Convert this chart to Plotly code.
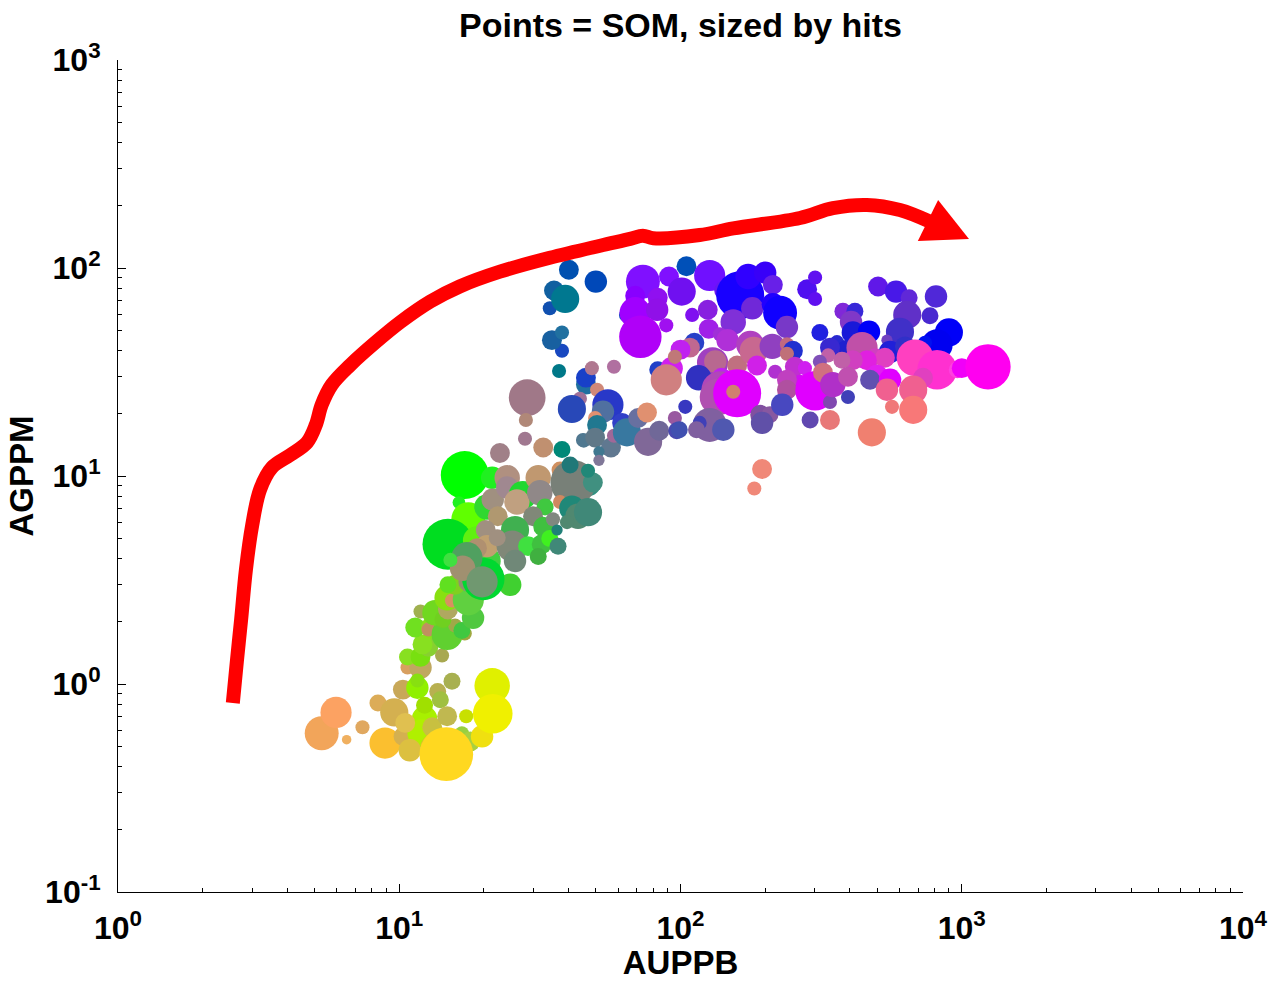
import plotly.graph_objects as go

# ---- SOM nodes: AU (ppb), AG (ppm), hits, node colour ----
au_ppb = [
    # lower-left yellow / orange nodes
    5.3, 5.96, 6.5, 7.4, 8.4, 9.6, 8.9, 10.3, 10.3, 10.7, 11.9, 11.6, 11.6, 13.7, 15.4, 12.3, 12.3,
    12.0, 10.9, 13.1, 14.0, 14.8, 13.5, 14.2, 16.2, 16.7, 17.3, 17.9, 13.1, 10.5, 14.7, 19.7, 21.4, 21.5,
    # green arm
    10.7, 11.9, 12.7, 14.2, 12.1, 11.4, 13.1, 12.7, 14.8, 15.8, 17.1, 16.7, 11.9, 13.4, 14.3, 14.9,
    18.3, 14.8, 15.4, 17.6, 15.8, 17.6, 24.8,
    # main green / grey cluster
    17.1, 21.4, 16.3, 17.6, 14.9, 18.9, 20.5, 21.5, 24.2, 24.2, 27.5, 26.2, 31.2, 31.6, 33.0, 29.9,
    22.4, 25.8, 32.5, 35.2, 20.3, 20.2, 19.9, 20.5, 25.2, 18.9, 22.3, 28.7, 32.1, 34.3, 31.2, 25.8,
    17.4, 16.8, 15.2, 19.7, 14.9, 37.3, 46.9, 41.5, 48.8, 46.9, 40.5, 37.9, 32.5, 37.3, 41.1, 43.2,
    46.9, 39.5, 36.7, 36.4, 22.8, 45.0,
    # teal / blue column
    28.5, 28.2, 28.0, 37.0, 37.9, 34.9, 37.9, 34.3, 35.5, 38.9, 40.1, 50, 46.1, 46.1, 48.4, 58, 50.5,
    43.9, 41.1, 55.2, 53, 49.7, 50.5, 45.3, 49.7, 56.6, 51.3, 51.3, 58, 62, 64.5, 70.7, 76, 76.7, 84,
    95.5, 97, 83, 93, 89,
    # purple / blue cluster
    105, 73.5, 91, 127, 69, 83, 64, 69, 82.6, 101, 110, 125, 89, 72, 143, 163, 174, 200, 213, 180,
    154, 213, 226, 239, 282, 301, 301, 126, 138, 147, 112, 108, 100, 95.5, 130, 133, 159, 177, 182,
    212, 239, 251, 239, 187, 217, 255, 277, 266, 239, 239, 301, 116, 140, 138, 136, 159, 154, 104,
    127, 117, 142, 99, 114, 192, 208, 230, 195, 289, 340, 195, 183, 340,
    # right blue / pink cluster
    504, 584, 650, 810, 378, 417, 640, 771, 404, 410, 468, 313, 603, 900, 817, 740, 542, 360, 391,
    340, 556, 628, 442, 666, 682, 817, 964, 1000, 1240, 728, 492, 533, 460, 410, 375, 335, 313, 321,
    348, 394, 499, 472, 556, 542, 672, 672, 565, 394, 479,
]

ag_ppm = [
    0.58, 0.73, 0.54, 0.62, 0.81, 0.73, 0.52, 0.56, 0.94, 1.2, 1.2, 0.96, 1.04, 0.92, 1.03, 0.68, 0.79,
    0.58, 0.48, 0.62, 0.84, 0.70, 0.49, 0.54, 0.51, 0.58, 0.70, 0.53, 0.42, 0.65, 0.46, 0.56, 0.98, 0.72,
    1.35, 1.35, 1.51, 1.37, 1.55, 1.87, 1.87, 1.83, 1.73, 1.91, 1.75, 1.81, 2.23, 2.2, 2.04, 2.28,
    2.08, 2.6, 2.52, 2.54, 3.0, 3.1, 3.0,
    10.1, 9.8, 7.45, 6.2, 4.7, 4.9, 7.1, 7.7, 9.8, 8.8, 8.1, 7.5, 9.8, 8.3, 7.1, 6.4,
    6.4, 5.5, 5.7, 6.2, 5.5, 3.9, 3.2, 4.6, 4.6, 4.5, 5.05, 4.6, 4.7, 5.0, 4.1, 3.9,
    4.05, 3.6, 3.95, 3.1, 3.0, 10.7, 9.2, 9.3, 9.3, 10.6, 11.3, 13.4, 13.7, 7.5, 7.0, 6.4,
    6.7, 6.0, 4.6, 5.5, 12.9, 14.9,
    23.8, 18.6, 15.1, 32, 40, 45, 49, 64, 78, 71, 98, 86, 27.5, 29.7, 33, 33.5, 26,
    23.5, 21, 22, 20.4, 19, 17.6, 14.8, 15.3, 13.7, 13.1, 11.9, 15.6, 18, 16.2, 19, 20.2, 14.6, 16.5,
    19, 16.5, 32.4, 33, 29,
    102, 86, 91, 92, 73.5, 72, 59.5, 61, 63, 77, 59.5, 63, 53, 46.7, 78, 74, 91, 95, 83, 64,
    55, 67, 61, 52, 79, 90, 71, 51, 48, 45, 43.7, 41.4, 40.5, 37.4, 35, 35.5, 34, 42.7, 40,
    42, 43, 40, 38.7, 34, 31.7, 33.5, 33, 28.4, 29, 26, 25.7, 29.7, 29.7, 26, 24, 25, 25.4, 21.5,
    17.6, 18, 16.7, 16.7, 16.7, 19.7, 19.7, 22, 18, 18.6, 18.6, 10.8, 8.7, 22.7,
    81.5, 77, 72, 73, 62, 62, 59.5, 59, 55, 49, 49.4, 49, 49.4, 49, 42.7, 43.7, 45, 44, 40.5,
    41.4, 39.5, 42, 41.4, 35.4, 37, 32.4, 32.4, 33, 33.5, 29.7, 37.4, 37, 36, 36, 36, 38, 35.4, 31.4,
    27.5, 30, 30.3, 29, 29, 26, 26, 20.8, 21.5, 24, 16.2,
]

hits = [
    64, 54, 5, 11, 16, 44, 54, 19, 22, 11, 28, 28, 11, 16, 16, 36, 16,
    44, 28, 22, 16, 22, 54, 28, 22, 11, 11, 22, 16, 22, 160, 28, 70, 87,
    16, 22, 22, 11, 22, 22, 28, 11, 54, 11, 11, 16, 11, 36, 16, 22,
    28, 36, 11, 54, 22, 22, 28,
    128, 28, 9, 64, 144, 44, 36, 28, 36, 28, 44, 36, 36, 36, 16, 22,
    22, 44, 22, 11, 22, 54, 100, 28, 54, 22, 16, 22, 22, 16, 16, 28,
    54, 36, 11, 54, 16, 16, 36, 114, 22, 11, 16, 16, 22, 11, 36, 36,
    44, 11, 16, 7, 22, 11,
    75, 11, 11, 11, 11, 22, 11, 11, 22, 44, 22, 28, 22, 22, 11, 11, 11,
    11, 44, 54, 28, 11, 22, 11, 22, 22, 7, 7, 11, 22, 44, 22, 22, 44, 22,
    11, 16, 16, 28, 54,
    22, 64, 22, 54, 22, 22, 11, 54, 28, 44, 11, 22, 11, 100, 22, 128, 36, 28, 22, 28,
    36, 28, 64, 28, 22, 11, 11, 22, 11, 28, 22, 22, 22, 11, 54, 28, 22, 44, 44,
    36, 11, 22, 11, 22, 11, 22, 11, 11, 22, 22, 87, 36, 22, 75, 75, 128, 11, 11,
    64, 11, 28, 16, 16, 22, 16, 28, 28, 16, 22, 22, 11, 11,
    22, 28, 16, 28, 16, 16, 44, 16, 28, 28, 28, 16, 44, 44, 54, 11, 7, 11, 22,
    22, 28, 22, 54, 28, 75, 87, 16, 22, 114, 22, 16, 22, 22, 22, 16, 11, 11, 22,
    36, 22, 28, 22, 28, 28, 44, 44, 11, 11, 44,
]

node_colors = [
    "#f2a55a", "#fca262", "#f0b060", "#e0a860", "#dcac58", "#d4b050", "#fbbf2f", "#d4b050", "#c8a858",
    "#d8a060", "#c0a860", "#90f000", "#88e010", "#b8b050", "#a8b050", "#a8f000", "#a0e000",
    "#b0f000", "#dcc040", "#c8c040", "#a0c040", "#c0b850", "#d8c030", "#d0c840", "#c8d040",
    "#98d040", "#c8e000", "#a8d040", "#d8c040", "#e0c050", "#ffd820", "#f0e010", "#e0f000", "#f0f000",
    "#88e020", "#78e010", "#88d030", "#a8a850", "#88e020", "#70e020", "#88e018", "#c09060",
    "#60d030", "#a0a848", "#a0a840", "#40c840", "#a0b050", "#70d820", "#70d020", "#b0a860",
    "#50c840", "#88e010", "#d89060", "#60d040", "#80d020", "#909070", "#40d030",
    "#00ff00", "#20f020", "#20f020", "#60ff00", "#00dd20", "#60f010", "#30d830", "#a09080",
    "#b09080", "#a08890", "#20d830", "#c0a080", "#c09870", "#908888", "#40c840", "#808878",
    "#b09870", "#40b050", "#40c040", "#808880", "#a09080", "#40d040", "#00d830", "#c0a070",
    "#808878", "#b09070", "#a09080", "#40e040", "#40c040", "#40f020", "#40b040", "#708878",
    "#50a060", "#a09070", "#40e040", "#709870", "#60e020", "#d09060", "#309080", "#788078",
    "#409080", "#208878", "#207878", "#008878", "#c09070", "#d08860", "#208878", "#508870",
    "#408878", "#508870", "#408878", "#208078", "#a08088", "#507890",
    "#a07888", "#b08878", "#a07890", "#007888", "#1848c0", "#1860a0", "#2070a0", "#1050b0",
    "#1060a0", "#007890", "#0050b0", "#0048b8", "#2070a0", "#1840c8", "#b07890", "#b070a0",
    "#d08878", "#a07098", "#2848b8", "#2838c8", "#5070a0", "#e09070", "#207890", "#507890",
    "#607888", "#607890", "#407890", "#807898", "#a06898", "#3040c8", "#3878a0", "#6870a0",
    "#e09070", "#806898", "#706898", "#9858a0", "#4848b0", "#2040c8", "#d020f0", "#d08080",
    "#0050b8", "#8010ff", "#8010ff", "#7010ff", "#8800ff", "#9010f0", "#1050c0", "#a000ff",
    "#9010e8", "#7010f0", "#8010f0", "#8820e0", "#a010f0", "#b000f8", "#6818f0", "#1800ff",
    "#3000ff", "#3800f8", "#6820e8", "#7028d8", "#8030d8", "#2000ff", "#1000ff", "#7838c8",
    "#5010f0", "#6010f0", "#6010f0", "#a020e8", "#a030d8", "#b030d8", "#2840c8", "#c06890",
    "#c020f0", "#c07878", "#a040c0", "#b86890", "#c07080", "#b040c0", "#c86890", "#9040c0",
    "#c06880", "#2030d0", "#c07078", "#d020e8", "#b030d0", "#c030d0", "#d020f0", "#d010f0",
    "#c040c0", "#b050a0", "#e000ff", "#3030c0", "#c020f0", "#b048b8", "#b050b0", "#e000ff",
    "#d08070", "#3838c0", "#8060a0", "#4040b8", "#5058b0", "#4050b0", "#8060a0", "#8050a0",
    "#8858a0", "#4848c0", "#6050a8", "#6048b0", "#e87878", "#f08878", "#f08878", "#8048b0",
    "#6018e8", "#4818e8", "#6028d8", "#5028d8", "#8028d8", "#3828d8", "#6030c8", "#4828d0",
    "#8038c8", "#1818d8", "#0000f8", "#2020e0", "#4030c8", "#0000f8", "#0000f0", "#0010f0",
    "#7040c0", "#2828d0", "#2020d0", "#3828d0", "#2020d8", "#3030c8", "#c050a8", "#e040c0",
    "#ff40c0", "#ff30d0", "#ff40e0", "#f000f8", "#ff00f0", "#e040c0", "#d040c0", "#e040c0",
    "#e020e0", "#d040c0", "#c060a8", "#c060a8", "#8050b8", "#d07080", "#b030c8", "#c050b0",
    "#e020f0", "#6050b0", "#e000ff", "#f06090", "#f06090", "#f87878", "#f07878", "#4040b8", "#f08070",
]

assert len(au_ppb) == len(ag_ppm) == len(hits) == len(node_colors), (
    len(au_ppb), len(ag_ppm), len(hits), len(node_colors))

# ---- hand-drawn red trend arrow ----
trend_au = [2.56, 2.65, 2.74, 2.85, 3.0, 3.2, 3.53, 4.09, 4.7, 5.05, 5.3, 5.76, 6.7, 8.2, 10.1,
            12.9, 16.4, 22.8, 34.3, 51.8, 66.2, 73.5, 80, 117, 154, 266, 348, 460, 603, 771]
trend_ag = [0.81, 1.31, 2.04, 3.55, 5.8, 8.6, 11.0, 12.6, 14.5, 17.6, 22, 27.5, 34.2, 43.7, 55,
            69, 81.5, 96, 112, 128, 138, 143, 139, 144, 155, 174, 194, 201, 190, 167]
head_au = [824, 698, 1061, 824]
head_ag = [212, 135, 138, 212]

major_vals = [0.1, 1, 10, 100, 1000, 10000]
major_text = ["10<sup>-1</sup>", "10<sup>0</sup>", "10<sup>1</sup>", "10<sup>2</sup>",
              "10<sup>3</sup>", "10<sup>4</sup>"]
minor_vals = [m * 10 ** e for e in range(-1, 4) for m in range(2, 10)]

FONT = "Liberation Sans, Arial, Helvetica, sans-serif"

fig = go.Figure()
fig.add_trace(go.Scatter(
    x=au_ppb, y=ag_ppm, mode="markers",
    marker=dict(size=hits, sizemode="area", sizeref=1 / 9, color=node_colors,
                line=dict(width=0), opacity=1),
    hoverinfo="x+y", showlegend=False,
))
fig.add_trace(go.Scatter(
    x=trend_au, y=trend_ag, mode="lines",
    line=dict(color="#ff0000", width=14, shape="spline", smoothing=1.0),
    hoverinfo="skip", showlegend=False,
))
fig.add_trace(go.Scatter(
    x=head_au, y=head_ag, mode="lines", fill="toself", fillcolor="#ff0000",
    line=dict(color="#ff0000", width=0), hoverinfo="skip", showlegend=False,
))

axis_common = dict(
    type="log", showline=True, linecolor="black", linewidth=1, mirror=False,
    automargin=False,
    ticks="inside", ticklen=8, tickwidth=1, tickcolor="black",
    showgrid=False, zeroline=False, tickmode="array",
    tickvals=major_vals, ticktext=major_text,
    tickfont=dict(family=FONT, size=32, color="black", weight="bold"),
    minor=dict(ticks="inside", ticklen=4, tickcolor="black", tickmode="array",
               tickvals=minor_vals, showgrid=False),
)

fig.update_layout(
    width=1271, height=981,
    margin=dict(l=118, r=28, t=60, b=89, autoexpand=False),
    paper_bgcolor="white", plot_bgcolor="white",
    showlegend=False,
    title=dict(text="Points = SOM, sized by hits", x=0.5, xref="paper",
               y=1 - 25 / 981, yref="container", xanchor="center", yanchor="middle",
               font=dict(family=FONT, size=34, color="black", weight="bold")),
    xaxis=dict(axis_common, range=[0, 4], ticklabelstandoff=8,
               title=dict(text="AUPPB", standoff=9,
                          font=dict(family=FONT, size=33, color="black", weight="bold"))),
    yaxis=dict(axis_common, range=[-1, 3], ticklabelstandoff=10,
               title=dict(text="AGPPM", standoff=1,
                          font=dict(family=FONT, size=33, color="black", weight="bold"))),
)

fig.write_html("out.html")
